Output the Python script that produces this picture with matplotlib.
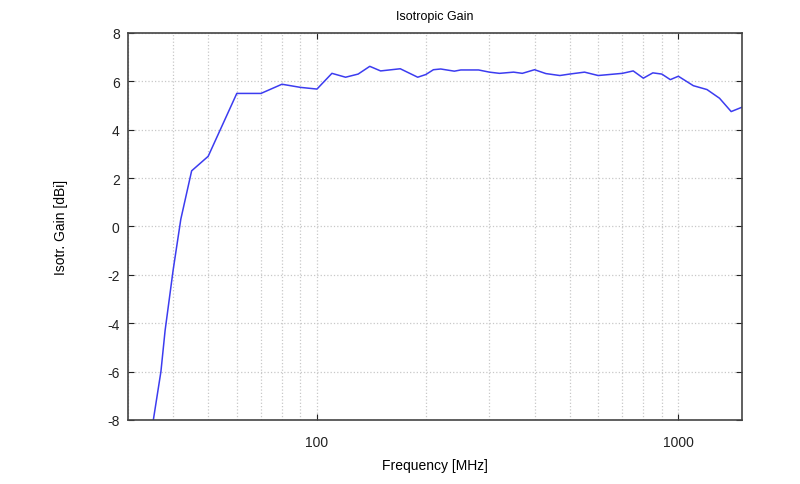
import numpy as np
import matplotlib.pyplot as plt

plt.rcParams['font.family'] = ['Liberation Sans', 'DejaVu Sans']
plt.rcParams['axes.unicode_minus'] = False

# frecuencias en MHz y ganancia isotropica en dBi
freq = [35, 37, 38, 40, 42, 45, 50, 60, 70, 80, 90, 100, 110, 120, 130, 140,
        150, 170, 190, 200, 210, 220, 240, 250, 280, 300, 320, 350, 370, 400,
        430, 470, 500, 550, 600, 700, 750, 800, 850, 900, 950, 1000, 1100,
        1200, 1300, 1400, 1500]
gain = [-8.3, -6.0, -4.3, -1.8, 0.3, 2.3, 2.9, 5.5, 5.5, 5.88, 5.75, 5.68,
        6.33, 6.17, 6.3, 6.62, 6.43, 6.52, 6.17, 6.28, 6.48, 6.51, 6.42, 6.47,
        6.47, 6.38, 6.33, 6.38, 6.33, 6.48, 6.32, 6.24, 6.3, 6.38, 6.24, 6.33,
        6.43, 6.13, 6.35, 6.3, 6.07, 6.21, 5.82, 5.66, 5.3, 4.75, 4.93]

fig = plt.figure(figsize=(8, 4.85), dpi=100)
ax = fig.add_axes([0.16, 0.132, 0.7675, 0.798])

ax.semilogx(freq, gain, color='#3c3cf0', linewidth=1.1)

ax.set_xlim(30, 1500)
ax.set_ylim(-8, 8)
ax.set_yticks(np.arange(-8, 9, 2))
ax.set_xticks([100, 1000])
ax.set_xticklabels(['100', '1000'])
ax.xaxis.set_minor_formatter(plt.NullFormatter())

ax.grid(True, which='both', axis='x', linestyle=':', color='#c8c8c8', linewidth=0.9)
ax.grid(True, which='major', axis='y', linestyle=':', color='#c8c8c8', linewidth=0.9)

ax.tick_params(which='major', direction='in', top=True, right=True,
               length=4, labelsize=10, colors='#222222')
ax.tick_params(axis='x', pad=11)
ax.tick_params(axis='y', pad=6)
ax.tick_params(which='minor', length=0)
for s in ax.spines.values():
    s.set_color('#444444')
    s.set_linewidth(1.2)

ax.set_title('Isotropic Gain', fontsize=9, pad=10)
ax.set_xlabel('Frequency [MHz]', fontsize=10, labelpad=6)
ax.set_ylabel('Isotr. Gain [dBi]', fontsize=10, labelpad=28)

fig.savefig('out.png', dpi=100)
